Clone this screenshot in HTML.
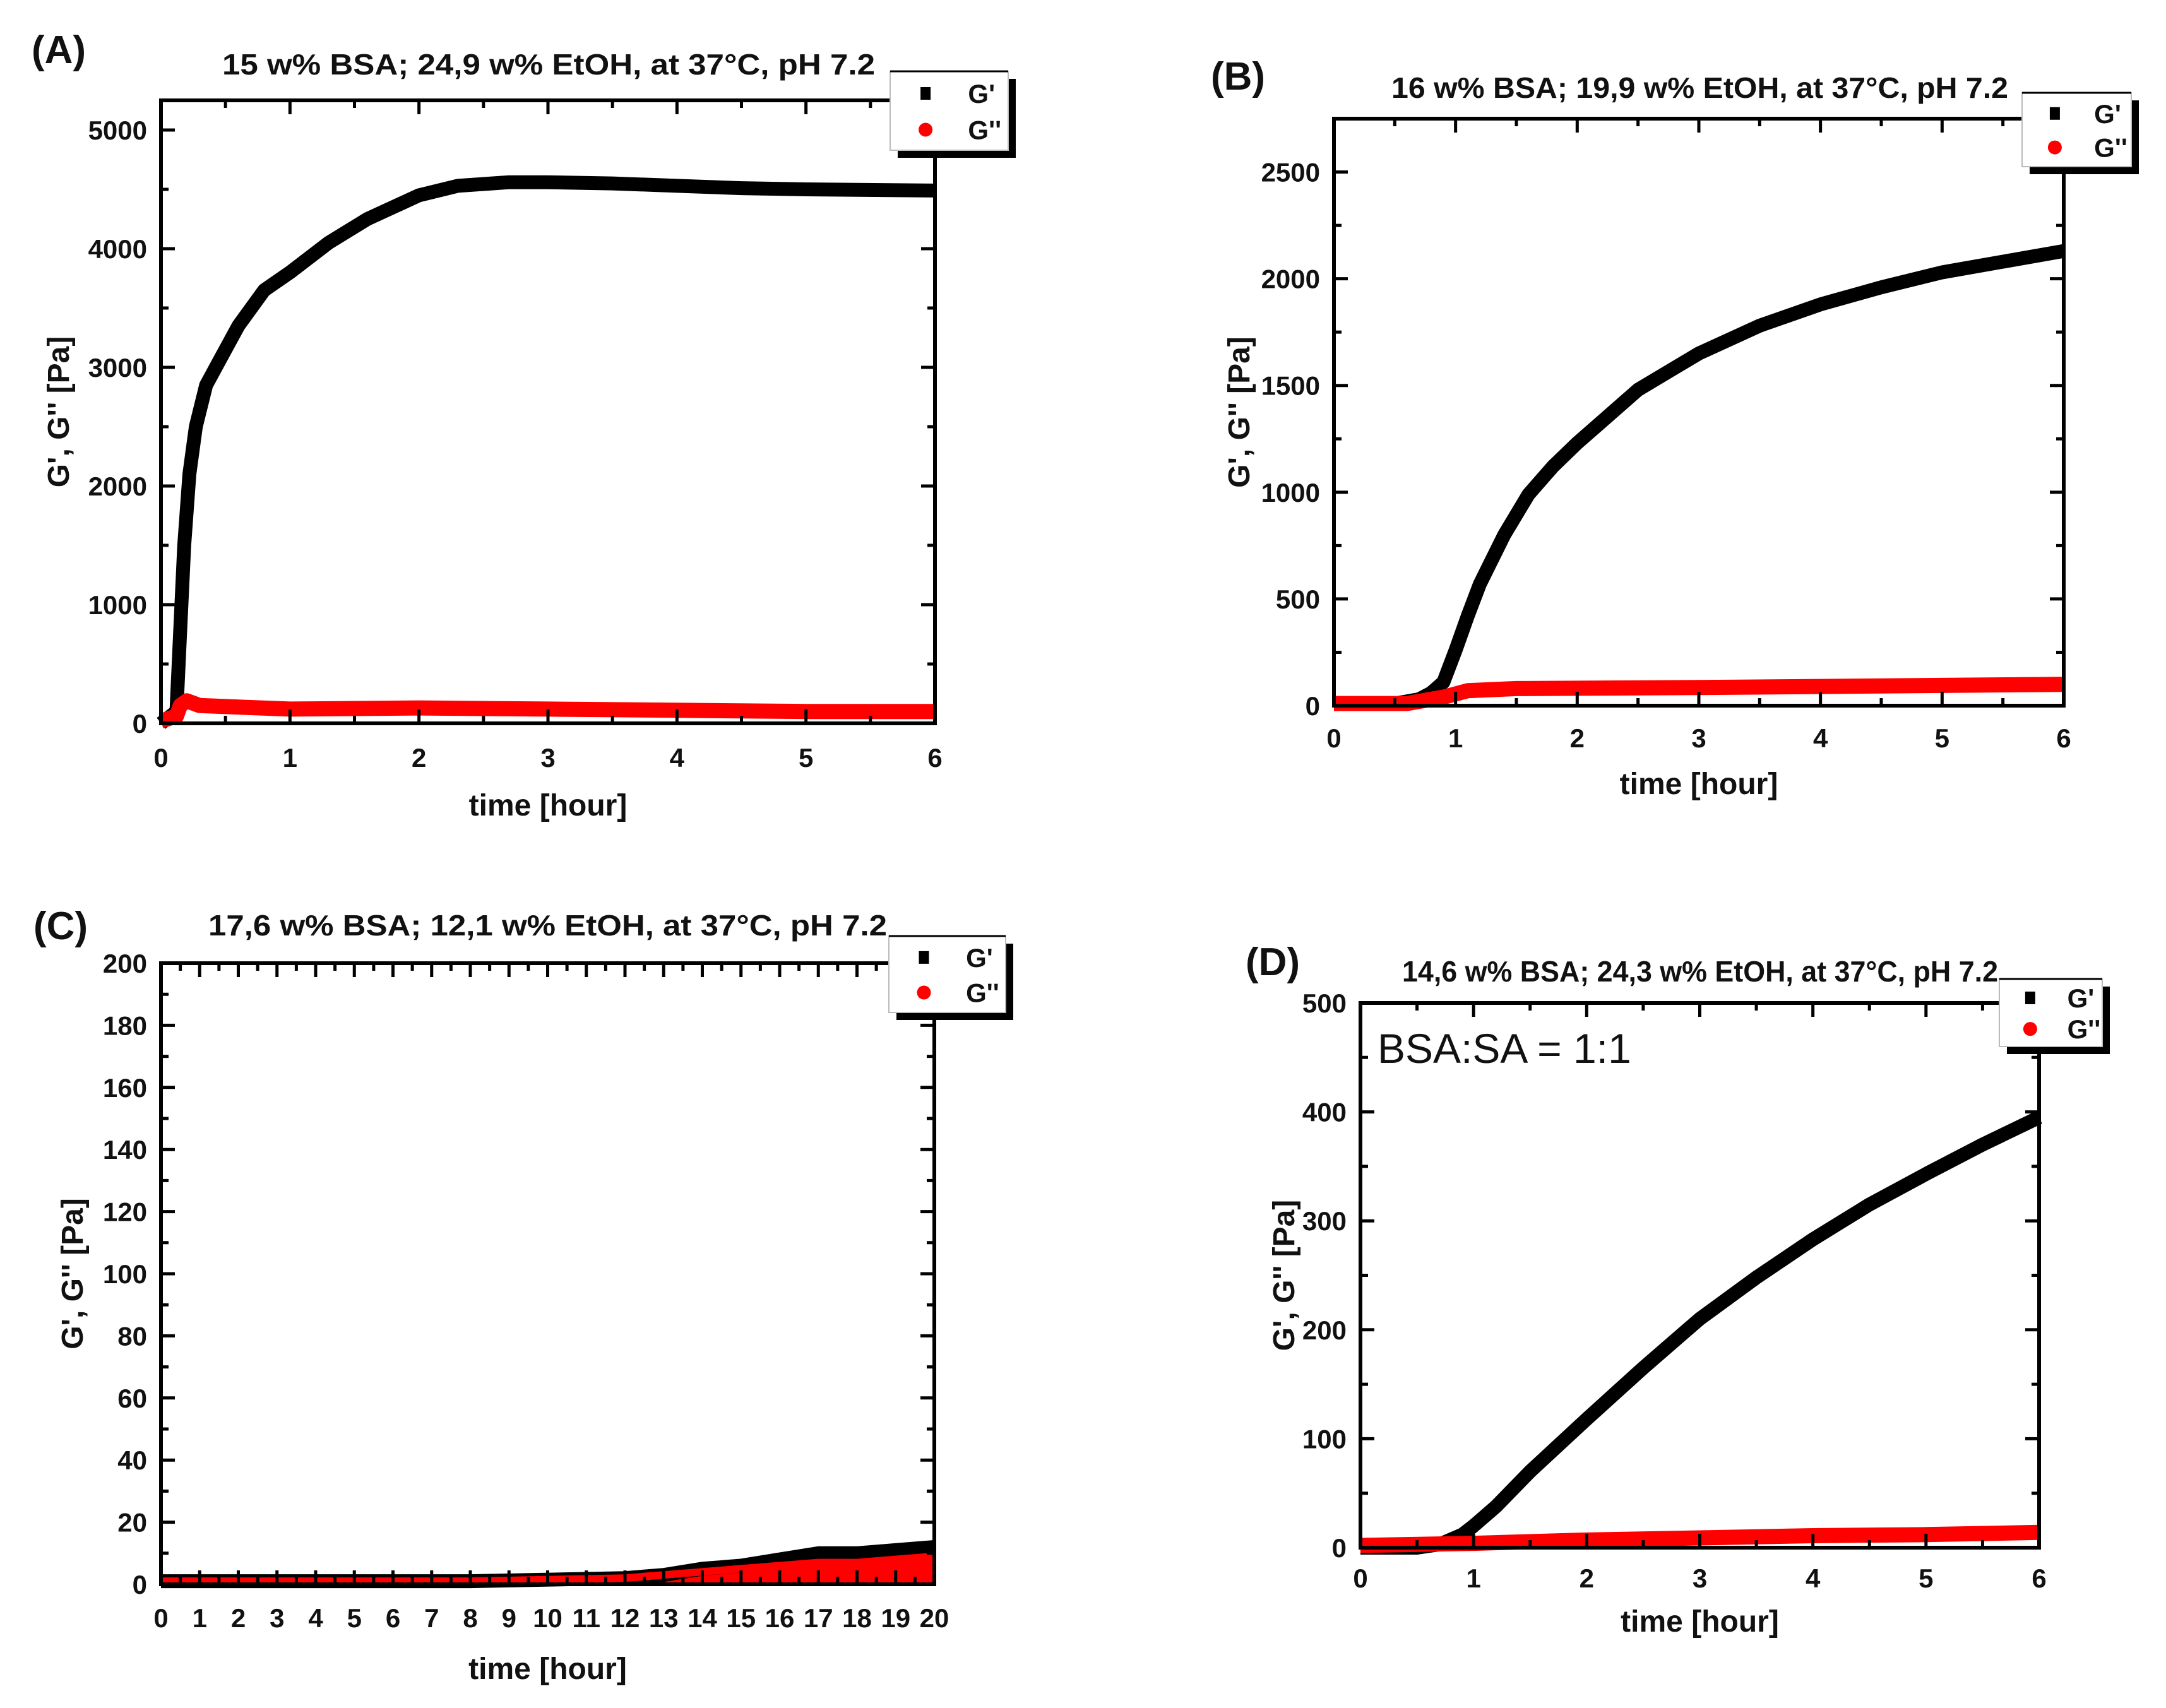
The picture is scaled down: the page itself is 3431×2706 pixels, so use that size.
<!DOCTYPE html>
<html><head><meta charset="utf-8"><style>
html,body{margin:0;padding:0;background:#fff;}
svg{display:block;font-family:"Liberation Sans",Arial,sans-serif;font-weight:bold;}
</style></head><body>
<svg id="fig" width="3431" height="2706" viewBox="0 0 3431 2706" xmlns="http://www.w3.org/2000/svg">
<rect width="3431" height="2706" fill="#fff"/>
</svg>
<script>
// ---- Panel A data ----
const aTime = [0,0.12,0.15,0.18,0.22,0.27,0.35,0.45,0.6,0.8,1,1.3,1.6,2,2.3,2.7,3,3.5,4,4.5,5,6];
const aGp   = [0,100,800,1500,2100,2500,2850,3050,3350,3650,3800,4050,4250,4450,4530,4560,4560,4550,4530,4510,4500,4490];
const aTime2 = [0,0.12,0.15,0.2,0.3,1,2,3,4,5,6];
const aGpp   = [20,60,150,190,150,120,130,120,110,100,100];
const aYTicks = [0,1000,2000,3000,4000,5000];
const aXTicks = [0,1,2,3,4,5,6];
// ---- Panel B data ----
const bTime = [0,0.5,0.7,0.8,0.9,1,1.1,1.2,1.4,1.6,1.8,2,2.5,3,3.5,4,4.5,5,5.5,6];
const bGp   = [10,10,30,60,110,260,420,570,800,990,1120,1230,1480,1650,1780,1880,1960,2030,2080,2130];
const bTime2 = [0,0.6,0.9,1.1,1.5,3,4,5,6];
const bGpp   = [10,10,40,70,80,85,90,95,100];
const bYTicks = [0,500,1000,1500,2000,2500];
const bXTicks = [0,1,2,3,4,5,6];
// ---- Panel C data ----
const cTime = [0,4,8,12,13,14,15,16,17,18,19,20];
const cGp   = [1,1,1,2,3,5,6,8,10,10,11,12];
const cTime2 = [0,4,8,12,13,14,15,16,17,18,19,20];
const cGpp   = [1,1,1,2,3,4,5,6,7,7,8,9];
const cYTicks = [0,20,40,60,80,100,120,140,160,180,200];
const cXTicks = [0,1,2,3,4,5,6,7,8,9,10,11,12,13,14,15,16,17,18,19,20];
// ---- Panel D data ----
const dTime = [0,0.5,0.7,0.9,1,1.2,1.5,2,2.5,3,3.5,4,4.5,5,5.5,6];
const dGp   = [0,0,3,12,20,38,70,118,165,210,248,283,315,343,370,395];
const dTime2 = [0,1,2,3,4,5,6];
const dGpp   = [2,4,7,9,11,12,14];
const dYTicks = [0,100,200,300,400,500];
const dXTicks = [0,1,2,3,4,5,6];

const NS = "http://www.w3.org/2000/svg";
const svg = document.getElementById('fig');
function mk(tag, attrs, parent){
  const e = document.createElementNS(NS, tag);
  for (const k in attrs) e.setAttribute(k, attrs[k]);
  (parent||svg).appendChild(e);
  return e;
}

const panels = [
 {id:'a', letter:'(A)', lx:50, ly:100, title:'15 w% BSA; 24,9 w% EtOH, at 37°C, pH 7.2', tx:352, tw:1034, ty:118,
  L:255,R:1481,T:159,B:1146, xmax:6, ymax:5250, xMinor:0.5, yMinor:500,
  t:aTime, gp:aGp, t2:aTime2, gpp:aGpp, yt:aYTicks, xt:aXTicks, ytx:93, xty:1292, xtl:1200,
  leg:{x:1410,y:113,w:187,h:125}},
 {id:'b', letter:'(B)', lx:1918, ly:142, title:'16 w% BSA; 19,9 w% EtOH, at 37°C, pH 7.2', tx:2204, tw:977, ty:155,
  L:2113,R:3269,T:188,B:1118, xmax:6, ymax:2750, xMinor:0.5, yMinor:250,
  t:bTime, gp:bGp, t2:bTime2, gpp:bGpp, yt:bYTicks, xt:bXTicks, ytx:1963, xty:1258, xtl:1169,
  leg:{x:3203,y:147,w:173,h:117}},
 {id:'c', letter:'(C)', lx:53, ly:1488, title:'17,6 w% BSA; 12,1 w% EtOH, at 37°C, pH 7.2', tx:330, tw:1075, ty:1482,
  L:255,R:1480,T:1526,B:2510, xmax:20, ymax:200, xMinor:0.5, yMinor:10,
  t:cTime, gp:cGp, t2:cTime2, gpp:cGpp, yt:cYTicks, xt:cXTicks, ytx:115, xty:2660, xtl:2563, fillRed:true,
  leg:{x:1408,y:1483,w:185,h:121}},
 {id:'d', letter:'(D)', lx:1973, ly:1545, title:'14,6 w% BSA; 24,3 w% EtOH, at 37°C, pH 7.2', tx:2221, tw:944, ty:1555,
  L:2155,R:3230,T:1589,B:2452, xmax:6, ymax:500, xMinor:0.5, yMinor:50,
  t:dTime, gp:dGp, t2:dTime2, gpp:dGpp, yt:dYTicks, xt:dXTicks, ytx:2034, xty:2585, xtl:2500,
  leg:{x:3167,y:1551,w:163,h:107}}
];

panels.forEach(p => {
  const g = mk('g', {});
  
  
  const X = v => p.L + v / p.xmax * (p.R - p.L);
  const Y = v => p.B - v / p.ymax * (p.B - p.T);

  const lt = mk('text', {x:p.lx, y:p.ly, 'font-size':62, fill:'#111'}, g);
  lt.textContent = p.letter;
  
  
  const tt = mk('text', {x:p.tx, y:p.ty, 'font-size':46, fill:'#111', textLength:p.tw, lengthAdjust:'spacingAndGlyphs'}, g);
  tt.textContent = p.title;
  
  

  const pts = (ts, vs) => ts.map((t,i) => X(t).toFixed(1) + ',' + Y(vs[i]).toFixed(1)).join(' ');
  if (p.fillRed) {
    const area = mk('polygon', {points: pts(p.t2, p.gpp) + ' ' + X(p.t2[p.t2.length-1]) + ',' + Y(0) + ' ' + X(p.t2[0]) + ',' + Y(0), fill:'#f00'}, g);
    
    
  }
  const l1 = mk('polyline', {points: pts(p.t, p.gp), fill:'none', stroke:'#000', 'stroke-width':22, 'stroke-linejoin':'round', 'stroke-linecap':'butt'}, g);
  
  
  const l2 = mk('polyline', {points: pts(p.t2, p.gpp), fill:'none', stroke:'#f00', 'stroke-width':p.fillRed?12:24, 'stroke-linejoin':'round', 'stroke-linecap':'butt'}, g);
  
  

  const fr = mk('rect', {x:p.L, y:p.T, width:p.R-p.L, height:p.B-p.T, fill:'none', stroke:'#000', 'stroke-width':6}, g);
  
  

  let d = '';
  for (let v = 0; v <= p.xmax + 1e-9; v += p.xMinor) {
    const major = Math.abs(v - Math.round(v)) < 1e-9;
    const len = major ? 22 : 12, x = X(v);
    d += `M${x},${p.B}v${-len}M${x},${p.T}v${len}`;
  }
  for (let v = 0; v <= p.ymax + 1e-9; v += p.yMinor) {
    const major = p.yt.some(t => Math.abs(t - v) < 1e-9);
    const len = major ? 22 : 12, y = Y(v);
    d += `M${p.L},${y}h${len}M${p.R},${y}h${-len}`;
  }
  const tk = mk('path', {d, stroke:'#000', 'stroke-width':5, fill:'none'}, g);
  
  

  p.yt.forEach(v => {
    const t = mk('text', {x:p.L-22, y:Y(v)+15, 'font-size':42, 'text-anchor':'end', fill:'#111'}, g);
    t.textContent = v;
    
    
  });
  p.xt.forEach(v => {
    const t = mk('text', {x:X(v), y:p.xtl+15, 'font-size':42, 'text-anchor':'middle', fill:'#111'}, g);
    t.textContent = v;
    
    
  });
  const xtit = mk('text', {x:(p.L+p.R)/2, y:p.xty, 'font-size':48, 'text-anchor':'middle', fill:'#111'}, g);
  xtit.textContent = 'time [hour]';
  
  
  const yc = (p.T + p.B) / 2;
  const ytit = mk('text', {x:p.ytx, y:yc, 'font-size':48, 'text-anchor':'middle', fill:'#111', transform:`rotate(-90 ${p.ytx} ${yc}) translate(0 16)`}, g);
  ytit.textContent = "G', G'' [Pa]";
  
  

  const lg = mk('g', {}, g);
  
  
  const q = p.leg;
  mk('rect', {x:q.x+12, y:q.y+12, width:q.w, height:q.h, fill:'#000'}, lg);
  mk('rect', {x:q.x, y:q.y, width:q.w, height:q.h, fill:'#fff', stroke:'#bbb', 'stroke-width':2}, lg);
  mk('line', {x1:q.x, y1:q.y, x2:q.x+q.w, y2:q.y, stroke:'#000', 'stroke-width':3}, lg);
  const r1 = q.y + q.h*0.28, r2 = q.y + q.h*0.74, mx = q.x + q.w*0.3, tx = q.x + q.w*0.66;
  const sq = mk('rect', {x:mx-8, y:r1-10, width:16, height:20, fill:'#000'}, lg);
  
  
  const t1 = mk('text', {x:tx, y:r1+15, 'font-size':42, fill:'#111'}, lg);
  t1.textContent = "G'";
  
  
  const dot = mk('circle', {cx:mx, cy:r2, r:11, fill:'#f00'}, lg);
  
  
  const t2 = mk('text', {x:tx, y:r2+15, 'font-size':42, fill:'#111'}, lg);
  t2.textContent = "G''";
  
  
});

const ann = mk('text', {x:2182, y:1684, 'font-size':66, 'font-weight':'normal', fill:'#111'});
ann.textContent = 'BSA:SA = 1:1';


</script>
</body></html>
